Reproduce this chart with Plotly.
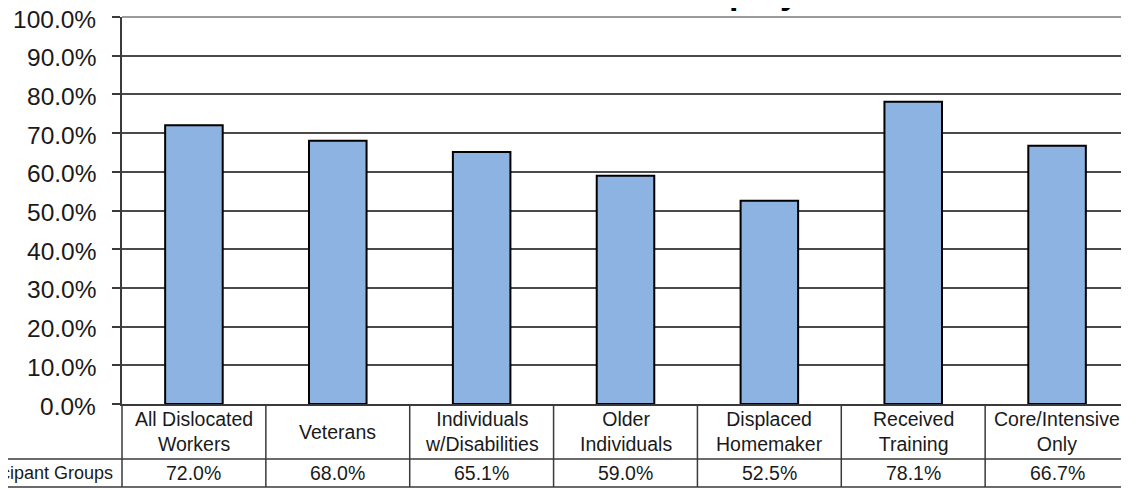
"""
Bar chart with Excel-style data table underneath (entered employment by participant group).
"""

import plotly.graph_objects as go

FONT = "Liberation Sans, Arial, sans-serif"
TEXT_COLOR = "#1a1a1a"
LINE_COLOR = "#3a3a3a"

categories = [
    "All Dislocated<br>Workers",
    "Veterans",
    "Individuals<br>w/Disabilities",
    "Older<br>Individuals",
    "Displaced<br>Homemaker",
    "Received<br>Training",
    "Core/Intensive<br>Only",
]
rate_pct = [72.0, 68.0, 65.1, 59.0, 52.5, 78.1, 66.7]
series_name = "Participant Groups"
title_text = "Entered Employment Rate"
y_ticks = [i / 10 for i in range(11)]

# the page body keeps its 8px default margin, so the figure is 8px smaller
W, H = 1121, 482
L, R, T, B = 114, 0, 9, 86
plot_w = W - L - R
plot_h = H - T - B

n = len(categories)
values = [v / 100 for v in rate_pct]

fig = go.Figure()
fig.add_trace(go.Bar(
    x=list(range(n)), y=values,
    marker_color="#8DB3E2",
    marker_line_color="#000000",
    marker_line_width=2,
    width=0.4,
    name=series_name,
    showlegend=False,
))

# data table lines below the plot (pixel offsets converted to paper units)
row1 = 55 / plot_h
row2 = 83 / plot_h
shapes = []
for k in range(n + 1):
    shapes.append(dict(type="line", xref="paper", yref="paper",
                       x0=k / n, x1=k / n, y0=0, y1=-row2,
                       line=dict(color=LINE_COLOR, width=1.5)))
for yy in (row1, row2):
    shapes.append(dict(type="line", xref="paper", yref="paper",
                       x0=-L / plot_w, x1=1, y0=-yy, y1=-yy,
                       line=dict(color=LINE_COLOR, width=1.5)))
# plotly drops the grid line at the top end of the range, draw it by hand
shapes.append(dict(type="line", xref="paper", yref="paper",
                   x0=0, x1=1, y0=1, y1=1, layer="below",
                   line=dict(color="#7a7a7a", width=1.5)))

annotations = []
for i, (cat, v) in enumerate(zip(categories, rate_pct)):
    annotations.append(dict(x=i, xref="x", y=-27.5 / plot_h, yref="paper",
                            text=cat, showarrow=False, yanchor="middle",
                            font=dict(size=19.5, color=TEXT_COLOR)))
    annotations.append(dict(x=i, xref="x", y=-69 / plot_h, yref="paper",
                            text="%.1f%%" % v, showarrow=False, yanchor="middle",
                            font=dict(size=19.5, color=TEXT_COLOR)))
annotations.append(dict(x=-7 / plot_w, xref="paper", y=-69 / plot_h, yref="paper",
                        text=series_name, showarrow=False,
                        xanchor="right", yanchor="middle",
                        font=dict(size=18, color=TEXT_COLOR)))
# y tick labels as annotations: they sit a little below their ticks, like Excel
for t in y_ticks:
    annotations.append(dict(x=-24 / plot_w, xref="paper", y=t, yref="y",
                            text="%.1f%%" % (t * 100), showarrow=False,
                            xanchor="right", yanchor="middle", yshift=-2,
                            font=dict(size=24.5, color=TEXT_COLOR)))
# chart title sits mostly above the cropped picture
annotations.append(dict(x=(530 - L) / plot_w, xref="paper", y=1 + 4 / plot_h,
                        yref="paper", text="<b>" + title_text + "</b>",
                        showarrow=False, xanchor="left", yanchor="bottom",
                        font=dict(size=34, color="#000000")))

fig.update_layout(
    width=W, height=H,
    margin=dict(l=L, r=R, t=T, b=B, pad=0),
    paper_bgcolor="white", plot_bgcolor="white",
    font=dict(family=FONT, color=TEXT_COLOR),
    bargap=0.6,
    shapes=shapes,
    annotations=annotations,
    xaxis=dict(range=[-0.5, n - 0.5], showticklabels=False, ticks="",
               showgrid=False, zeroline=False, automargin=False,
               showline=True, linecolor=LINE_COLOR, linewidth=1.5),
    yaxis=dict(range=[0, 1], tickvals=y_ticks, showticklabels=False,
               ticks="outside", ticklen=8, tickwidth=1.5, tickcolor=LINE_COLOR,
               automargin=False,
               showgrid=True, gridcolor="#4a4a4a", gridwidth=1.5,
               zeroline=False,
               showline=True, linecolor=LINE_COLOR, linewidth=2),
)

fig.write_html("out.html")
